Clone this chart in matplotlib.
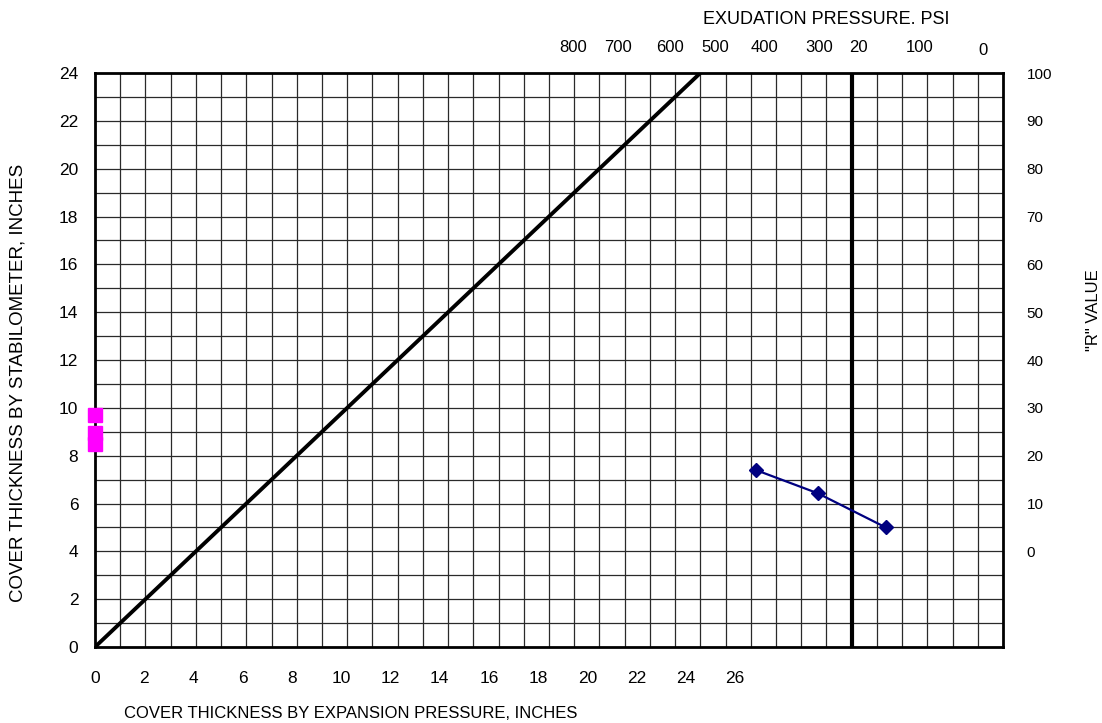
"""
R-value / cover thickness design chart (stabilometer vs expansion pressure)
"""

import matplotlib
matplotlib.use("Agg")
import matplotlib.pyplot as plt

plt.rcParams['font.family'] = ['Liberation Sans', 'DejaVu Sans']

# ---- data ----
x_ticks = [0, 2, 4, 6, 8, 10, 12, 14, 16, 18, 20, 22, 24, 26]
y_ticks = [0, 2, 4, 6, 8, 10, 12, 14, 16, 18, 20, 22, 24]
r_ticks = [0, 10, 20, 30, 40, 50, 60, 70, 80, 90, 100]

exud_labels = ['800', '700', '600', '500', '400', '300', '20', '100', '0']
exud_pos = [18.95, 20.75, 22.8, 24.6, 26.55, 28.7, 30.25, 32.7, 35.2]

# 1:1 reference line
ref_x = [0, 24]
ref_y = [0, 24]

# test points (R value curve)
test_x = [26.2, 28.65, 31.35]
test_y = [7.4, 6.43, 5.0]

# stabilometer thickness markers on the left axis
stab_x = [0, 0, 0]
stab_y = [9.7, 8.95, 8.5]

exud_line_x = 30   # 300 psi exudation line

X_MAX, Y_MAX = 36, 24
TICK_SCALE = 0.976  # bottom labels sit slightly compressed vs grid


fig = plt.figure(figsize=(11.02, 7.23), dpi=100, facecolor='white')
ax = fig.add_axes([95 / 1102, 76 / 723, 908 / 1102, 574 / 723])

ax.set_xlim(0, X_MAX)
ax.set_ylim(0, Y_MAX)

# grid every unit
for gx in range(1, X_MAX):
    ax.axvline(gx, color='#2a2a2a', lw=0.9, zorder=1)
for gy in range(1, Y_MAX):
    ax.axhline(gy, color='#2a2a2a', lw=0.9, zorder=1)

for side in ax.spines.values():
    side.set_linewidth(2.0)
    side.set_color('black')

ax.plot(ref_x, ref_y, color='black', lw=2.8, zorder=3, solid_capstyle='butt')
ax.axvline(exud_line_x, color='black', lw=3.0, zorder=3)

ax.plot(test_x, test_y, color='#000080', lw=1.6, marker='D', ms=7.5,
        markerfacecolor='#000080', markeredgecolor='#000080', zorder=4)
ax.plot(stab_x, stab_y, ls='none', marker='s', ms=9.5, color='#FF00FF',
        clip_on=False, zorder=5)

# bottom / left ticks
ax.set_xticks([v * TICK_SCALE for v in x_ticks])
ax.set_xticklabels([str(v) for v in x_ticks], fontsize=12.5)
ax.set_yticks(y_ticks)
ax.set_yticklabels([str(v) for v in y_ticks], fontsize=12.5)
ax.tick_params(axis='both', length=0)
ax.tick_params(axis='x', pad=17)
ax.tick_params(axis='y', pad=12)

# right: R value
axr = ax.twinx()
axr.set_ylim(-20, 100)
axr.set_yticks(r_ticks)
axr.set_yticklabels([str(v) for v in r_ticks], fontsize=11)
axr.tick_params(axis='y', length=0, pad=17)
for side in axr.spines.values():
    side.set_visible(False)

# top: exudation pressure
axt = ax.twiny()
axt.set_xlim(0, X_MAX)
axt.set_xticks(exud_pos[:-1])
axt.set_xticklabels(exud_labels[:-1], fontsize=12)
axt.tick_params(axis='x', length=0, pad=13)
for side in axt.spines.values():
    side.set_visible(False)
axt.text(exud_pos[-1], Y_MAX + 0.62, exud_labels[-1], fontsize=12,
         ha='center', va='bottom', transform=axt.transData)

fig.text(826 / 1102, 1 - 19 / 723, 'EXUDATION PRESSURE. PSI', fontsize=13,
         ha='center', va='center')
fig.text(351 / 1102, 1 - 713 / 723, 'COVER THICKNESS BY EXPANSION PRESSURE, INCHES',
         fontsize=12, ha='center', va='center')
fig.text(18 / 1102, 1 - 383 / 723, 'COVER THICKNESS BY STABILOMETER, INCHES',
         fontsize=13.5, rotation=90, ha='center', va='center')
fig.text(1093 / 1102, 1 - 310 / 723, '"R" VALUE', fontsize=12,
         rotation=90, ha='center', va='center')

fig.savefig('out.png', dpi=100, facecolor='white')
